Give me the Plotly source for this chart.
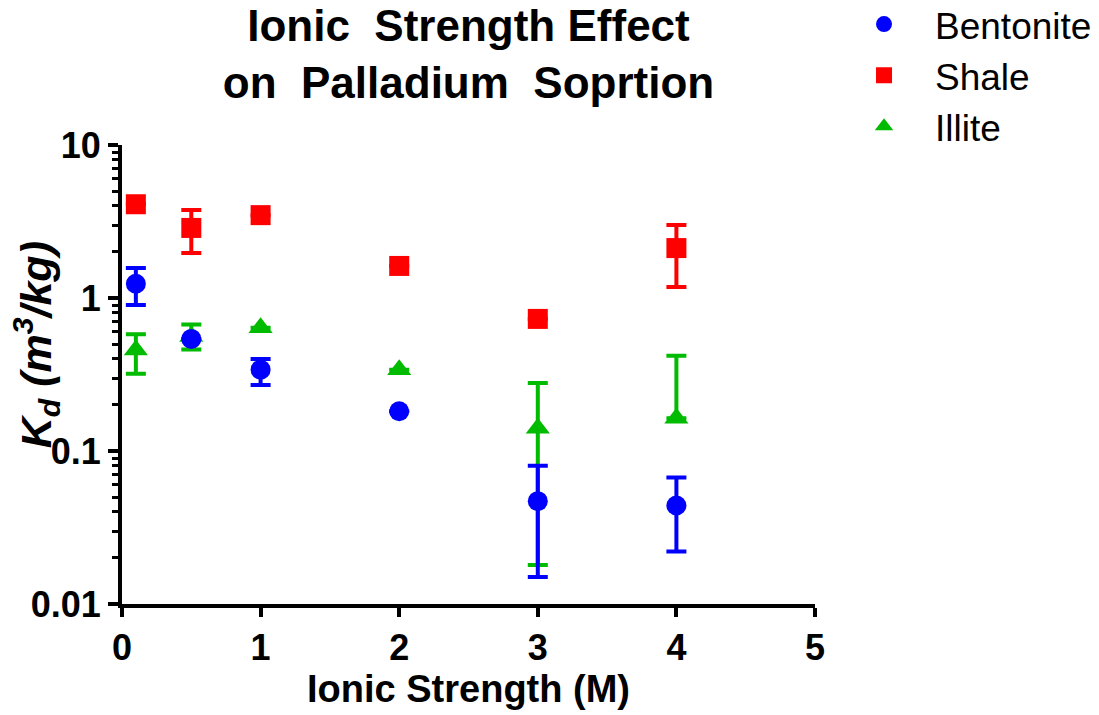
import plotly.graph_objects as go

ionic = [0.1, 0.5, 1, 2, 3, 4]

bent_kd = [1.24, 0.54, 0.34, 0.182, 0.047, 0.044]
bent_up = [0.33, 0.0, 0.06, 0.0, 0.033, 0.023]
bent_dn = [0.34, 0.0, 0.07, 0.0, 0.032, 0.022]

shale_kd = [4.1, 2.87, 3.48, 1.62, 0.73, 2.12]
shale_up = [0.0, 0.89, 0.0, 0.0, 0.0, 0.88]
shale_dn = [0.0, 0.90, 0.0, 0.0, 0.0, 0.94]

illite_kd = [0.457, 0.56, 0.64, 0.34, 0.141, 0.164]
illite_up = [0.123, 0.11, 0.0, 0.0, 0.137, 0.256]
illite_dn = [0.137, 0.10, 0.0, 0.0, 0.123, 0.0]

names = ["Bentonite", "Shale", "Illite"]
colors = ["#0000ff", "#ff0000", "#00bb00"]
symbols = ["circle", "square", "triangle-up"]

ytick_vals = [0.01, 0.1, 1, 10]
ytick_text = ["0.01", "0.1", "1", "10"]
xtick_vals = [0, 1, 2, 3, 4, 5]

FONT = "Arial, Liberation Sans, sans-serif"

# drawn bottom to top: Illite, Shale, Bentonite; legend ranked Bentonite, Shale, Illite
series = [
    (names[2], illite_kd, illite_up, illite_dn, colors[2], symbols[2], 3, 21),
    (names[1], shale_kd, shale_up, shale_dn, colors[1], symbols[1], 2, 20),
    (names[0], bent_kd, bent_up, bent_dn, colors[0], symbols[0], 1, 20),
]

fig = go.Figure()
for name, kd, up, dn, col, sym, rank, msize in series:
    fig.add_trace(go.Scatter(
        x=ionic, y=kd, mode="markers", name=name, legendrank=rank,
        marker=dict(color=col, symbol=sym, size=msize, line=dict(width=0)),
        error_y=dict(type="data", symmetric=False, array=up, arrayminus=dn,
                     color=col, thickness=4, width=10),
    ))

fig.update_layout(
    width=1091, height=707,
    margin=dict(l=114, r=284, t=137, b=111, autoexpand=False),
    paper_bgcolor="white", plot_bgcolor="white",
    font=dict(family=FONT, color="black"),
    title=dict(text="<b>Ionic  Strength Effect<br>on  Palladium  Soprtion</b>",
               x=0.5, xref="paper", xanchor="center",
               y=0.954, yref="container", yanchor="top",
               font=dict(size=44, family=FONT, color="black")),
    legend=dict(x=1.026, y=1.33, xanchor="left", yanchor="top",
                traceorder="normal",
                font=dict(size=37, family=FONT),
                itemwidth=92, bgcolor="rgba(0,0,0,0)"),
    showlegend=True,
    annotations=[dict(
        text="<b><i>K<sub>d</sub> (m<sup>3</sup>/kg)</i></b>",
        textangle=-90, xref="paper", yref="paper",
        x=-0.124, y=0.564, xanchor="center", yanchor="middle",
        showarrow=False, font=dict(size=43, family=FONT, color="black"),
    )],
)

fig.update_xaxes(
    range=[0, 5], tickvals=xtick_vals,
    showline=True, linecolor="black", linewidth=4,
    ticks="outside", ticklen=9, tickwidth=4, tickcolor="black",
    showgrid=False, zeroline=False, automargin=False,
    tickfont=dict(size=36, family=FONT, color="black", weight="bold"),
    title=dict(text="<b>Ionic Strength (M)</b>", font=dict(size=38, family=FONT), standoff=6),
)

fig.update_yaxes(
    type="log", range=[-2, 1], tickvals=ytick_vals, ticktext=ytick_text,
    showline=True, linecolor="black", linewidth=4,
    ticks="outside", ticklen=10, tickwidth=4, tickcolor="black",
    minor=dict(ticks="outside", ticklen=6, tickwidth=3, tickcolor="black",
               dtick="D1", showgrid=False),
    showgrid=False, zeroline=False, automargin=False,
    tickfont=dict(size=36, family=FONT, color="black", weight="bold"),
)

fig.write_html("out.html")
